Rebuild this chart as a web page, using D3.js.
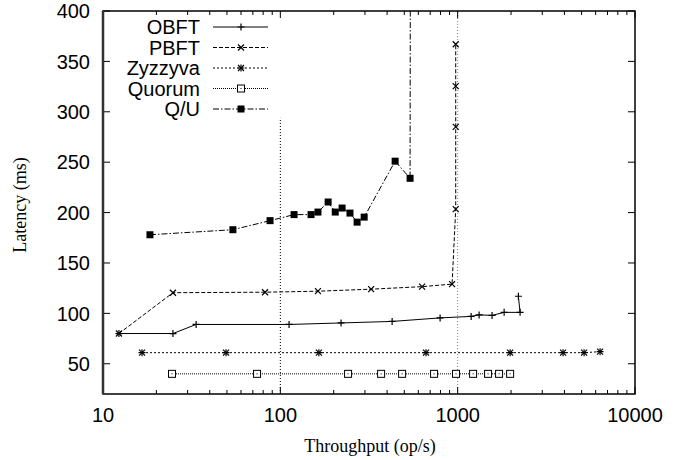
<html>
<head>
<meta charset="utf-8">
<script src="https://d3js.org/d3.v7.min.js"></script>
<style>
body { margin: 0; background: #fff; }
text { fill: #000; }
</style>
</head>
<body>
<svg width="692" height="460"></svg>
<script>
// series values: [throughput, latency]
var obft = [[12.3,80],[24.8,80],[33.5,89],[112,89],[220,90.5],[427,92],[796,95.5],[1191,97],[1321,98.5],[1563,98],[1828,101],[2249,101],[2200,117]];
var pbft = [[12.3,80],[24.8,120.5],[82,121],[163,122],[325,124],[630,126.5],[930,129],[975,203.5],[975,285],[975,325.5],[975,367]];
var zyzzyva = [[16.6,61],[49.4,61],[165,61],[663,61],[1976,61],[3930,61],[5164,61],[6354,62]];
var quorum = [[24.5,40],[73.9,40],[241,40],[370,40],[486,40],[736,40],[979,40],[1222,40],[1484,40],[1712,40],[1976,40]];
var qu = [[18.4,178],[54,183],[87.5,192],[119.5,198],[149,198],[163,200.5],[186,210.5],[204,200.5],[223,204.5],[247,199.5],[271,190.5],[297,195.5],[444,251],[539,234],[545,900]];
var seriesNames = ["OBFT","PBFT","Zyzzyva","Quorum","Q/U"];
var xTicks = [10,100,1000,10000];
var yTicks = [50,100,150,200,250,300,350,400];
// vertical marker lines: [x, yFrom, yTo]
var refLines = [[100,20,294],[1000,20,400]];

var svg = d3.select("svg"),
    margin = {top: 11, right: 57, bottom: 66, left: 103},
    width = 692 - margin.left - margin.right,
    height = 460 - margin.top - margin.bottom,
    g = svg.append("g").attr("transform", `translate(${margin.left},${margin.top})`);

var x = d3.scaleLog().domain([10,10000]).range([0,width]);
var y = d3.scaleLinear().domain([20,400]).range([height,0]);

svg.append("defs").append("clipPath").attr("id","clip")
  .append("rect").attr("width",width).attr("height",height);

var styles = {
  "OBFT":    {dash: null,       marker: "plus"},
  "PBFT":    {dash: "4,2",      marker: "cross"},
  "Zyzzyva": {dash: "2,2",      marker: "star"},
  "Quorum":  {dash: "1,1",      marker: "box"},
  "Q/U":     {dash: "6,2,1.5,2", marker: "fbox"}
};
var data = {"OBFT": obft, "PBFT": pbft, "Zyzzyva": zyzzyva, "Quorum": quorum, "Q/U": qu};
var sansFont = "20px 'Liberation Sans', Arial, sans-serif",
    serifFont = "18px 'Liberation Serif', 'Times New Roman', serif";

function marker(sel, type, cx, cy) {
  var s = 3.5;
  if (type == "plus" || type == "star") {
    sel.append("path").attr("d", `M${cx-s},${cy}H${cx+s}M${cx},${cy-s}V${cy+s}`)
      .attr("stroke","#000").attr("stroke-width",1.2);
  }
  if (type == "cross" || type == "star") {
    var c = 3;
    sel.append("path").attr("d", `M${cx-c},${cy-c}L${cx+c},${cy+c}M${cx-c},${cy+c}L${cx+c},${cy-c}`)
      .attr("stroke","#000").attr("stroke-width",1.2);
  }
  if (type == "box") {
    sel.append("rect").attr("x",cx-3.5).attr("y",cy-3.5).attr("width",7).attr("height",7)
      .attr("fill","#fff").attr("stroke","#000").attr("stroke-width",1);
    sel.append("rect").attr("x",cx-0.5).attr("y",cy-0.5).attr("width",1).attr("height",1).attr("fill","#000");
  }
  if (type == "fbox") {
    sel.append("rect").attr("x",cx-3.5).attr("y",cy-3.5).attr("width",7).attr("height",7).attr("fill","#000");
  }
}

// reference lines
refLines.forEach(function(r, i) {
  g.append("line")
    .attr("x1",x(r[0])).attr("x2",x(r[0]))
    .attr("y1",y(r[1])).attr("y2",y(r[2]))
    .attr("stroke", i == 0 ? "#000" : "#888")
    .attr("stroke-width",1)
    .attr("stroke-dasharray","1,2");
});

// ticks (gnuplot style, inward, mirrored)
var axes = g.append("g").attr("stroke","#000").attr("stroke-width",1);
var minor = [];
for (var d = 10; d < 10000; d *= 10) for (var k = 2; k <= 9; k++) minor.push(d*k);
xTicks.forEach(function(t) {
  axes.append("line").attr("x1",x(t)).attr("x2",x(t)).attr("y1",height).attr("y2",height-7);
  axes.append("line").attr("x1",x(t)).attr("x2",x(t)).attr("y1",0).attr("y2",7);
});
minor.forEach(function(t) {
  axes.append("line").attr("x1",x(t)).attr("x2",x(t)).attr("y1",height).attr("y2",height-4);
  axes.append("line").attr("x1",x(t)).attr("x2",x(t)).attr("y1",0).attr("y2",4);
});
yTicks.forEach(function(t) {
  axes.append("line").attr("x1",0).attr("x2",7).attr("y1",y(t)).attr("y2",y(t));
  axes.append("line").attr("x1",width).attr("x2",width-7).attr("y1",y(t)).attr("y2",y(t));
});

// series
var lineGen = d3.line().x(d => x(d[0])).y(d => y(d[1]));
var plot = g.append("g").attr("clip-path","url(#clip)");
seriesNames.forEach(function(name) {
  var st = styles[name];
  plot.append("path").datum(data[name])
    .attr("d", lineGen)
    .attr("fill","none")
    .attr("stroke","#000")
    .attr("stroke-width",1)
    .attr("stroke-dasharray", st.dash);
  var mk = plot.append("g");
  data[name].forEach(function(p) {
    if (p[1] <= 400) marker(mk, st.marker, x(p[0]), y(p[1]));
  });
});

// frame
g.append("rect").attr("width",width).attr("height",height)
  .attr("fill","none").attr("stroke","#000").attr("stroke-width",1.5);
g.append("line").attr("x1",0).attr("x2",0).attr("y1",0).attr("y2",height)
  .attr("stroke","#333").attr("stroke-width",2.5);

// tick labels
g.selectAll(".xl").data(xTicks).enter().append("text")
  .attr("x", d => x(d)).attr("y", height + 28)
  .attr("text-anchor","middle")
  .style("font", sansFont)
  .text(d => d);
g.selectAll(".yl").data(yTicks).enter().append("text")
  .attr("x", -13).attr("y", d => y(d)).attr("dy","0.36em")
  .attr("text-anchor","end")
  .style("font", sansFont)
  .text(d => d);

// axis titles
svg.append("text").attr("x", 370).attr("y", 452)
  .attr("text-anchor","middle")
  .style("font", serifFont)
  .text("Throughput (op/s)");
svg.append("text").attr("transform","translate(26,205) rotate(-90)")
  .attr("text-anchor","middle")
  .style("font", serifFont)
  .text("Latency (ms)");

// legend
var leg = g.append("g");
seriesNames.forEach(function(name, i) {
  var ly = 16 + i * 20.5;
  leg.append("text").attr("x", 97).attr("y", ly).attr("dy","0.36em")
    .attr("text-anchor","end")
    .style("font", sansFont)
    .text(name);
  leg.append("line").attr("x1",110).attr("x2",165).attr("y1",ly).attr("y2",ly)
    .attr("stroke","#000").attr("stroke-width",1)
    .attr("stroke-dasharray", styles[name].dash);
  marker(leg, styles[name].marker, 138, ly);
});
</script>
</body>
</html>
